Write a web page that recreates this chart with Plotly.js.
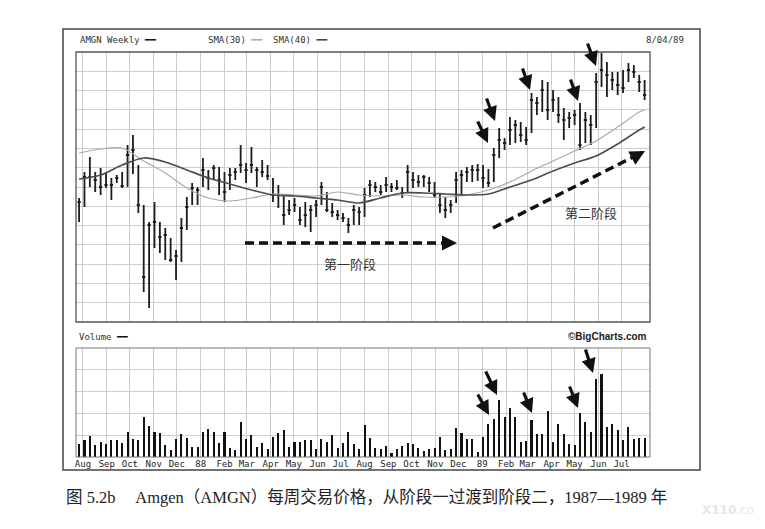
<!DOCTYPE html>
<html><head><meta charset="utf-8">
<script src="https://cdn.plot.ly/plotly-3.0.1.min.js"></script>
<style>html,body{margin:0;padding:0;background:#fff;} #chart{width:765px;height:529px;}</style>
</head><body><div id="chart"></div>
<script>
// ---- data ----
const firstWeek = '1987-07-27';
const highs = [44.8,50.0,53.0,50.0,50.8,50.0,48.8,49.4,50.0,55.4,
  57.4,51.4,43.4,40.0,44.0,40.0,38.8,36.8,34.4,40.8,
  45.0,47.8,47.0,52.8,50.4,51.4,51.0,50.0,50.8,50.8,
  55.4,51.8,55.0,51.0,52.4,51.4,48.8,47.4,45.4,44.4,
  44.8,43.0,44.0,43.4,44.4,48.0,46.0,43.8,42.4,41.8,
  40.8,43.4,43.0,46.8,48.4,48.0,47.4,49.0,47.8,48.4,
  47.0,51.4,50.0,49.4,49.4,49.0,48.0,45.8,45.0,44.4,
  50.0,50.4,51.0,51.4,51.6,51.4,50.6,54.8,58.8,56.8,
  61.0,60.4,60.0,59.0,65.8,65.0,68.4,68.0,66.4,65.0,
  62.8,62.0,62.4,63.8,62.0,61.4,69.8,73.8,72.0,70.0,
  70.0,70.4,71.8,71.4,69.4,68.4];
const lows = [40.0,43.0,47.0,46.0,45.4,46.8,44.4,47.8,46.8,47.0,
  49.6,41.8,26.0,22.8,34.8,33.8,32.4,32.0,28.4,32.0,
  38.4,43.4,43.4,47.0,46.4,48.4,45.4,44.0,46.4,48.4,
  49.8,47.8,49.8,47.0,49.0,48.4,44.0,42.8,39.4,41.4,
  42.0,39.4,39.0,38.0,41.0,43.4,42.0,41.0,40.4,40.0,
  37.8,39.4,39.4,41.0,45.0,46.0,45.4,46.0,46.0,46.4,
  44.8,46.0,46.8,47.0,47.0,46.0,44.8,41.8,40.8,41.8,
  43.8,45.4,48.0,48.0,48.2,46.8,47.0,48.0,52.8,54.4,
  55.4,55.8,56.0,55.4,57.8,61.4,62.0,60.4,62.0,59.8,
  56.4,58.8,59.4,54.4,55.8,55.4,58.8,67.0,65.0,66.4,
  65.4,65.8,68.0,68.8,66.0,64.4];
const closes = [44.0,49.0,49.0,48.4,47.0,47.4,47.4,48.8,47.2,53.4,
  54.4,43.4,29.0,39.4,40.0,37.0,37.4,32.4,33.2,38.8,
  43.0,46.8,46.4,50.4,48.8,50.8,48.4,46.0,49.4,50.0,
  51.4,50.4,51.4,50.4,50.0,49.2,45.4,45.4,41.4,42.4,
  43.4,40.4,41.4,42.4,43.4,47.0,42.4,42.0,41.4,40.8,
  39.4,42.4,42.0,45.4,47.4,47.0,46.0,47.4,47.0,46.8,
  45.8,50.0,48.4,48.0,49.0,47.8,45.4,43.4,42.4,43.4,
  48.4,49.4,50.0,50.4,50.4,48.8,47.8,53.4,56.4,55.8,
  58.4,59.4,57.4,56.4,64.4,63.8,66.4,62.4,64.4,61.4,
  60.4,60.8,61.4,55.4,60.4,59.4,68.0,70.4,69.4,68.4,
  67.4,66.8,70.4,70.0,68.0,65.4];
const volumes = [600,780,950,550,700,600,780,780,640,1150,
  830,780,1830,1420,1150,1100,550,320,830,1050,
  870,460,460,1150,1280,1150,640,1150,410,320,
  1610,830,1010,460,640,370,920,1100,1240,460,
  690,690,780,780,370,830,690,1010,410,640,
  1150,600,370,1470,870,410,370,500,180,370,
  500,640,600,410,280,370,410,920,320,370,
  1330,1100,830,830,230,920,1510,1740,2610,1830,
  2250,1830,690,730,1700,1050,1050,2110,690,1510,
  1050,600,550,2020,1610,1150,3580,3810,1380,1510,
  1240,780,1380,830,870,870];
const smaDates = ['1987-07-27','1987-08-24','1987-09-21','1987-10-19','1987-11-16','1987-12-14',
  '1988-01-11','1988-02-08','1988-03-07','1988-04-04','1988-05-02','1988-05-30','1988-06-27',
  '1988-07-25','1988-08-22','1988-09-19','1988-10-17','1988-11-14','1988-12-12','1989-01-09',
  '1989-02-06','1989-03-06','1989-04-03','1989-05-01','1989-05-29','1989-06-26','1989-07-24','1989-07-31'];
const sma30 = [53.8,54.6,54.8,52.2,49.8,46.8,44.8,44.2,44.8,45.6,45.4,45.2,46.0,45.4,45.2,45.4,
  45.0,45.0,45.4,46.4,48.0,50.2,52.2,54.2,56.2,59.0,62.0,62.4];
const sma40 = [48.6,49.4,51.4,52.8,52.0,50.4,48.8,47.6,46.4,45.4,45.2,44.8,44.4,43.8,44.8,45.8,
  45.8,45.6,45.4,45.6,47.0,48.4,50.2,51.8,53.2,55.6,58.4,59.0];
const monthTicks = ['1987-08-01','1987-09-01','1987-10-01','1987-11-01','1987-12-01','1988-01-01',
  '1988-02-01','1988-03-01','1988-04-01','1988-05-01','1988-06-01','1988-07-01','1988-08-01',
  '1988-09-01','1988-10-01','1988-11-01','1988-12-01','1989-01-01','1989-02-01','1989-03-01',
  '1989-04-01','1989-05-01','1989-06-01','1989-07-01'];
const monthLabels = ['Aug','Sep','Oct','Nov','Dec','88','Feb','Mar','Apr','May','Jun','Jul',
  'Aug','Sep','Oct','Nov','Dec','89','Feb','Mar','Apr','May','Jun','Jul'];

// ---- build ----
const weeks = highs.map((_, i) => {
  const d = new Date(firstWeek + 'T00:00:00Z');
  d.setUTCDate(d.getUTCDate() + 7 * i);
  return d.toISOString().slice(0, 10);
});
const barColor = '#1c1c1c';
const gridColor = '#cdcdcd';
const mono = 'DejaVu Sans Mono, monospace';

const traces = [
  {type:'ohlc', x:weeks, open:closes, high:highs, low:lows, close:closes,
   xaxis:'x', yaxis:'y', tickwidth:0.3,
   increasing:{line:{color:barColor,width:1.8}}, decreasing:{line:{color:barColor,width:1.8}},
   hoverinfo:'skip'},
  {type:'scatter', mode:'lines', x:smaDates, y:sma30, xaxis:'x', yaxis:'y',
   line:{color:'#a9a9a9', width:1.2, shape:'spline', smoothing:0.8}, hoverinfo:'skip'},
  {type:'scatter', mode:'lines', x:smaDates, y:sma40, xaxis:'x', yaxis:'y',
   line:{color:'#4d4d4d', width:1.7, shape:'spline', smoothing:0.8}, hoverinfo:'skip'},
  {type:'bar', x:weeks, y:volumes, xaxis:'x2', yaxis:'y2',
   marker:{color:'#111'}, width:2.7*86400000, hoverinfo:'skip'}
];

const xr = ['1987-07-23','1989-08-07'];
const px = x => (x - 76) / 574;      // helper: pixel -> paper (annotation placement only)
const py = y => (457 - y) / 405;

function blackArrow(tx, ty, ax, ay) {
  return {xref:'paper', yref:'paper', x:px(tx), y:py(ty), ax:ax, ay:ay, text:'',
    showarrow:true, arrowhead:2, arrowsize:0.9, arrowwidth:3.2, arrowcolor:'#111'};
}

const annotations = [
  {xref:'paper', yref:'paper', x:px(78), y:py(40), xanchor:'left', yanchor:'middle', showarrow:false,
   text:'AMGN Weekly <span style="color:#111">━━</span>', font:{family:mono, size:9, color:'#333'}},
  {xref:'paper', yref:'paper', x:px(206), y:py(40), xanchor:'left', yanchor:'middle', showarrow:false,
   text:'SMA(30) <span style="color:#aaa">━━</span>  SMA(40) <span style="color:#444">━━</span>',
   font:{family:mono, size:9, color:'#333'}},
  {xref:'paper', yref:'paper', x:px(686), y:py(40), xanchor:'right', yanchor:'middle', showarrow:false,
   text:'8/04/89', font:{family:mono, size:9, color:'#333'}},
  {xref:'paper', yref:'paper', x:px(77), y:py(337), xanchor:'left', yanchor:'middle', showarrow:false,
   text:'Volume <span style="color:#111">━━</span>', font:{family:mono, size:9, color:'#333'}},
  {xref:'paper', yref:'paper', x:px(649), y:py(336), xanchor:'right', yanchor:'middle', showarrow:false,
   text:'<b>©BigCharts.com</b>', font:{family:'Liberation Sans, Arial, sans-serif', size:10, color:'#222'}},
  {xref:'paper', yref:'paper', x:px(350), y:py(263), xanchor:'center', yanchor:'middle', showarrow:false,
   text:'第一阶段', font:{family:'Noto Sans CJK SC', size:13, color:'#333'}},
  {xref:'paper', yref:'paper', x:px(591), y:py(213), xanchor:'center', yanchor:'middle', showarrow:false,
   text:'第二阶段', font:{family:'Noto Sans CJK SC', size:13, color:'#333'}},
  {xref:'paper', yref:'paper', x:px(64), y:py(497), xanchor:'left', yanchor:'middle', showarrow:false,
   text:'图 5.2b　 Amgen（AMGN）每周交易价格，从阶段一过渡到阶段二，1987—1989 年',
   font:{family:'Liberation Serif, Noto Sans CJK SC', size:16.5, color:'#222'}},
  {xref:'paper', yref:'paper', x:px(700), y:py(510), xanchor:'left', yanchor:'middle', showarrow:false,
   text:'<b>X110</b>.co', font:{family:'DejaVu Sans', size:12, color:'#e6e6e6'}},
  // stage arrow heads
  {xref:'paper', yref:'paper', x:px(457), y:py(243), ax:-12, ay:0, text:'', showarrow:true,
   arrowhead:2, arrowsize:1, arrowwidth:3, arrowcolor:'#111'},
  {xref:'paper', yref:'paper', x:px(645), y:py(151), ax:-11, ay:6, text:'', showarrow:true,
   arrowhead:2, arrowsize:1, arrowwidth:3, arrowcolor:'#111'},
  // pointer arrows, price panel
  blackArrow(488,143,-11,-23), blackArrow(495,121,-9,-24), blackArrow(530,90,-8,-23),
  blackArrow(578,101,-8,-23), blackArrow(596,66,-9,-24),
  // pointer arrows, volume panel
  blackArrow(489,415,-12,-22), blackArrow(497,395,-12,-25), blackArrow(532,413,-9,-22),
  blackArrow(578,408,-9,-23), blackArrow(593,373,-8,-25)
];

const shapes = [
  {type:'rect', xref:'paper', yref:'paper', x0:px(63), x1:px(700), y0:py(470), y1:py(29),
   line:{color:'#444', width:1.5}},
  {type:'rect', xref:'paper', yref:'paper', x0:0, x1:1, y0:py(322), y1:py(52),
   line:{color:'#555', width:1.3}},
  {type:'rect', xref:'paper', yref:'paper', x0:0, x1:1, y0:py(457), y1:py(348),
   line:{color:'#777', width:1}},
  {type:'line', xref:'paper', yref:'paper', x0:px(245), x1:px(449), y0:py(243), y1:py(243),
   line:{color:'#111', width:3.5, dash:'9px,5px'}},
  {type:'line', xref:'paper', yref:'paper', x0:px(493), x1:px(637), y0:py(228), y1:py(155),
   line:{color:'#111', width:3.5, dash:'9px,5px'}}
];

const axisCommon = {type:'date', range:xr, tickvals:monthTicks, showgrid:true, gridcolor:gridColor,
  gridwidth:1, zeroline:false, ticks:'', showline:false, rangeslider:{visible:false}, fixedrange:true};

const layout = {
  width:765, height:529, margin:{l:76, r:115, t:52, b:72},
  paper_bgcolor:'#fff', plot_bgcolor:'#fff', showlegend:false, hovermode:false,
  xaxis:Object.assign({}, axisCommon, {anchor:'y', showticklabels:false}),
  xaxis2:Object.assign({}, axisCommon, {anchor:'y2', matches:'x', ticktext:monthLabels,
    showticklabels:true, tickangle:0, tickfont:{family:mono, size:9, color:'#222'}}),
  yaxis:{domain:[py(322), 1], range:[20, 74], tick0:20, dtick:54/14, showticklabels:false,
    showgrid:true, gridcolor:gridColor, zeroline:false, ticks:'', fixedrange:true},
  yaxis2:{domain:[0, py(348)], range:[0, 5000], dtick:1000, showticklabels:false,
    showgrid:true, gridcolor:gridColor, zeroline:false, ticks:'', fixedrange:true},
  annotations:annotations, shapes:shapes, bargap:0
};

Plotly.newPlot('chart', traces, layout, {staticPlot:true, displayModeBar:false});
</script></body></html>
